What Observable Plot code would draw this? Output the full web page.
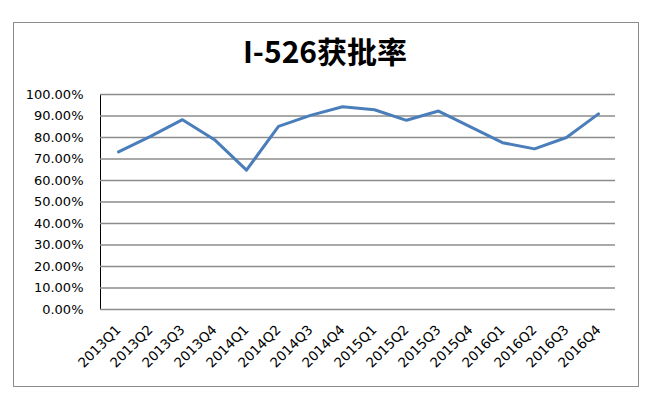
<!DOCTYPE html>
<html>
<head>
<meta charset="utf-8">
<script src="https://cdn.jsdelivr.net/npm/d3@7"></script>
<script src="https://cdn.jsdelivr.net/npm/@observablehq/plot@0.6"></script>
<style>
  body { margin: 0; background: #fff; }
  #wrap { position: relative; width: 650px; height: 405px; }
  #frame { position: absolute; left: 13px; top: 22px; width: 624px; height: 363px; border: 1.5px solid #8c8c8c; }
  #title { position: absolute; left: 0; width: 650px; top: 28px; text-align: center;
    font: bold 30px "Liberation Sans Narrow", "Noto Sans CJK SC", sans-serif; color: #000; }
  #chart { position: absolute; left: 0; top: 0; }
  #chart svg g[aria-label="x-axis tick label"] text { font-size: 13.5px; }
</style>
</head>
<body>
<div id="wrap">
  <div id="frame"></div>
  <div id="title">I-526获批率</div>
  <div id="chart"></div>
</div>
<script>
const quarters = ["2013Q1","2013Q2","2013Q3","2013Q4","2014Q1","2014Q2","2014Q3","2014Q4",
                  "2015Q1","2015Q2","2015Q3","2015Q4","2016Q1","2016Q2","2016Q3","2016Q4"];
const approvalRate = [0.733, 0.805, 0.883, 0.79, 0.648, 0.852, 0.903, 0.943,
                      0.929, 0.88, 0.923, 0.849, 0.776, 0.747, 0.80, 0.91];
const yTicks = [0, 0.1, 0.2, 0.3, 0.4, 0.5, 0.6, 0.7, 0.8, 0.9, 1.0];

const data = quarters.map((q, i) => ({q, v: approvalRate[i]}));

const chart = Plot.plot({
  width: 650,
  height: 405,
  marginLeft: 100,
  marginRight: 35,
  marginTop: 94,
  marginBottom: 96,
  style: { fontFamily: "'DejaVu Sans', sans-serif", fontSize: "13px", color: "#000", background: "transparent" },
  x: { type: "point", domain: quarters, padding: 0.5, tickSize: 0, tickRotate: -45, tickPadding: 18, label: null },
  y: { domain: [0, 1], ticks: yTicks, tickFormat: d => (d * 100).toFixed(2) + "%", tickSize: 0, tickPadding: 17, label: null, line: true },
  marks: [
    Plot.ruleY(yTicks, { stroke: "#8c8c8c", strokeWidth: 1.5 }),
    Plot.line(data, { x: "q", y: "v", stroke: "#4a7ebb", strokeWidth: 3, strokeLinejoin: "round" })
  ]
});
document.getElementById("chart").appendChild(chart);
</script>
</body>
</html>
